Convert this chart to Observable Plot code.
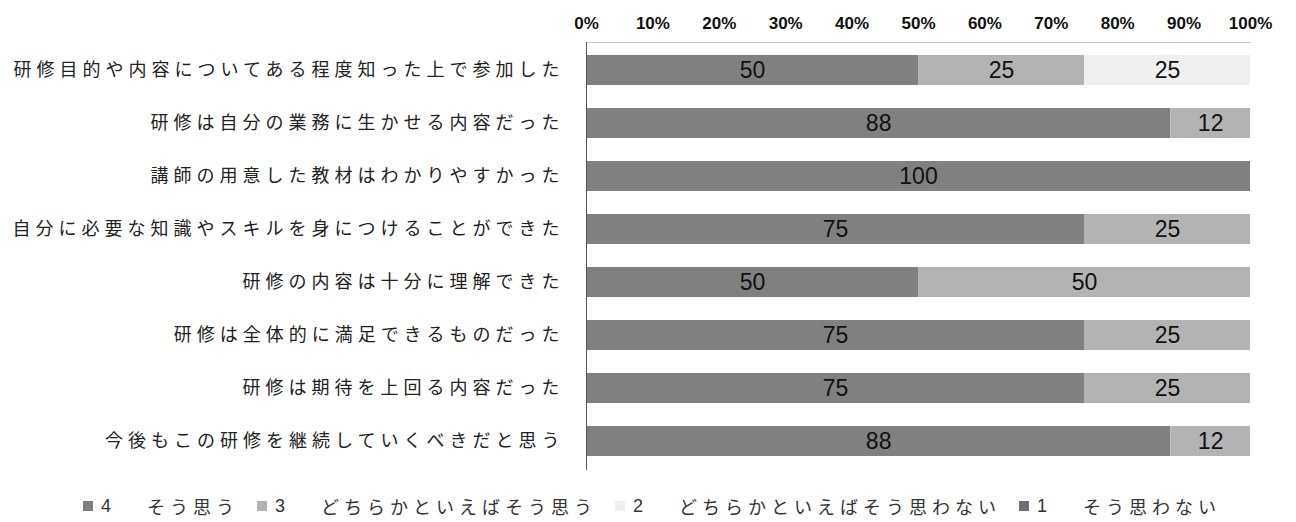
<!DOCTYPE html>
<html>
<head>
<meta charset="utf-8">
<script src="https://cdn.jsdelivr.net/npm/d3@7"></script>
<script src="https://cdn.jsdelivr.net/npm/@observablehq/plot@0.6"></script>
<style>
  body { margin: 0; background: #fff; font-family: "Noto Sans CJK JP", sans-serif; }
  #chart svg { display: block; }
  .legend { display: flex; gap: 0; padding-left: 83px; height: 32px; align-items: center; font-size: 18px; color: #333; letter-spacing: 5px; font-family: "Noto Sans CJK JP", sans-serif; }
  .legend .item { display: flex; align-items: center; margin-right: 18px; }
  .legend .sw { width: 10px; height: 10px; display: inline-block; margin-right: 8px; }
  .legend .num { font-family: "Liberation Sans", sans-serif; margin-right: 36px; font-size: 18px; letter-spacing: 0; }
</style>
</head>
<body>
<div id="chart"></div>
<div class="legend" id="legend"></div>
<script>
const questions = [
  "研修目的や内容についてある程度知った上で参加した",
  "研修は自分の業務に生かせる内容だった",
  "講師の用意した教材はわかりやすかった",
  "自分に必要な知識やスキルを身につけることができた",
  "研修の内容は十分に理解できた",
  "研修は全体的に満足できるものだった",
  "研修は期待を上回る内容だった",
  "今後もこの研修を継続していくべきだと思う"
];
const categories = ["4　そう思う", "3　どちらかといえばそう思う", "2　どちらかといえばそう思わない", "1　そう思わない"];
const catNums = ["4", "3", "2", "1"];
const catNames = ["そう思う", "どちらかといえばそう思う", "どちらかといえばそう思わない", "そう思わない"];
const colors = ["#808080", "#b3b3b3", "#efefef", "#6e6e6e"];
const s4 = [50, 88, 100, 75, 50, 75, 75, 88];
const s3 = [25, 12, 0, 25, 50, 25, 25, 12];
const s2 = [25, 0, 0, 0, 0, 0, 0, 0];
const s1 = [0, 0, 0, 0, 0, 0, 0, 0];
const xTicks = [0, 10, 20, 30, 40, 50, 60, 70, 80, 90, 100];

const series = [s4, s3, s2, s1];
const data = [];
questions.forEach((q, i) => {
  series.forEach((s, k) => {
    data.push({q, cat: categories[k], value: s[i]});
  });
});

const chart = Plot.plot({
  width: 1296,
  height: 490,
  marginLeft: 586,
  marginRight: 46,
  marginTop: 42,
  marginBottom: 20,
  style: {fontFamily: "'Noto Sans CJK JP', sans-serif", background: "#fff"},
  x: {domain: [0, 100], axis: null},
  y: {domain: questions, paddingInner: 0.43, paddingOuter: 0.245, axis: null},
  color: {domain: categories, range: colors},
  marks: [
    Plot.barX(data, {y: "q", x: "value", fill: "cat", order: categories}),
    Plot.text(data.filter(d => d.value > 0), Plot.stackX({
      y: "q", x: "value", z: "cat", order: categories, text: d => String(d.value),
      fontSize: 23, fill: "#111",
      fontFamily: "'Liberation Sans Narrow', 'Liberation Sans', sans-serif"
    })),
    Plot.axisX({anchor: "top", ticks: xTicks, tickFormat: d => d + "%", tickSize: 0, tickPadding: 14, label: null,
      fontSize: 17, fontWeight: "bold", fill: "#111", fontFamily: "'Liberation Sans', sans-serif"}),
    Plot.axisY({anchor: "left", tickSize: 0, tickPadding: 22, fontSize: 18, fill: "#222", label: null,
      fontFamily: "'Noto Sans CJK JP', sans-serif"}),
    Plot.frame({anchor: "top", stroke: "#c8c8c8"}),
    Plot.ruleX([0], {stroke: "#555"})
  ]
});
chart.querySelectorAll("g[aria-label='y-axis tick label'] text").forEach(t => t.setAttribute("letter-spacing", "5"));
document.getElementById("chart").appendChild(chart);

const legend = document.getElementById("legend");
catNums.forEach((n, k) => {
  const item = document.createElement("div");
  item.className = "item";
  item.innerHTML = `<span class="sw" style="background:${colors[k]}"></span><span class="num">${n}</span><span>${catNames[k]}</span>`;
  legend.appendChild(item);
});
</script>
</body>
</html>
